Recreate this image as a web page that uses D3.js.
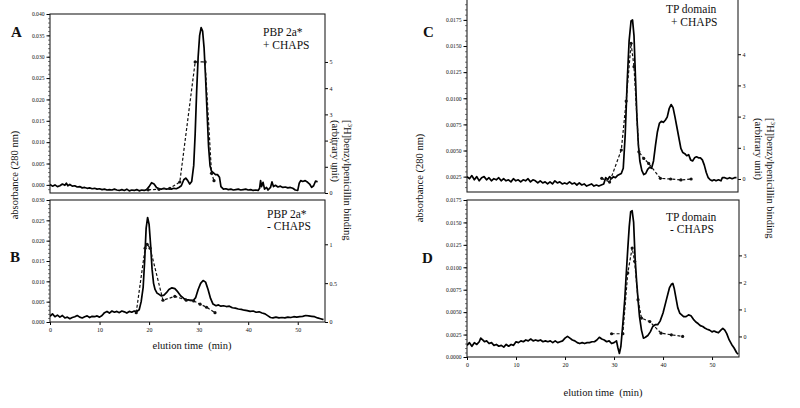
<!DOCTYPE html>
<html><head><meta charset="utf-8">
<script src="https://cdn.jsdelivr.net/npm/d3@7"></script>
<style>body{margin:0;background:#fff}svg{display:block}text{font-family:"Liberation Serif","Times New Roman",serif;fill:#111}</style>
</head><body><svg id="c" width="800" height="408"></svg>
<script>
// ---------- DATA (elution time min, value) ----------
const aAbs = [[0,0.0001],[0.5,-0.0003],[1,0.0000],[1.5,-0.0004],[2,-0.0002],[2.5,0.0002],[3,-0.0001],[3.3,0.0004],[3.6,-0.0002],[4,0.0001],[4.5,-0.0003],[5,-0.0002],[5.5,-0.0005],[6,-0.0004],[6.5,-0.0007],[7,-0.0006],[7.5,-0.0008],[8,-0.0007],[8.5,-0.0009],[9,-0.0008],[9.5,-0.0010],[10,-0.0009],[10.5,-0.0011],[11,-0.0010],[11.5,-0.0012],[12,-0.0011],[12.5,-0.0012],[13,-0.0010],[13.5,-0.0012],[14,-0.0013],[14.5,-0.0011],[15,-0.0013],[15.5,-0.0010],[16,-0.0014],[16.5,-0.0012],[17,-0.0013],[17.5,-0.0011],[18,-0.0014],[18.5,-0.0012],[19,-0.0013],[19.5,-0.0011],[20,-0.0004],[20.5,0.0005],[21,0.0002],[21.5,-0.0006],[22,-0.0009],[22.5,-0.0010],[23,-0.0008],[23.5,-0.0010],[24,-0.0009],[24.5,-0.0010],[25,-0.0008],[25.5,-0.0009],[26,-0.0006],[26.5,-0.0002],[27,0.0012],[27.4,0.0016],[27.8,0.0010],[28.2,0.0002],[28.6,0.0008],[29,0.0045],[29.3,0.0120],[29.6,0.0220],[29.9,0.0300],[30.2,0.0350],[30.5,0.0368],[30.8,0.0360],[31.1,0.0320],[31.4,0.0250],[31.7,0.0170],[32,0.0090],[32.3,0.0045],[32.6,0.0032],[33,0.0028],[33.4,0.0024],[33.8,0.0024],[34.2,0.0018],[34.5,-0.0004],[35,-0.0010],[35.5,-0.0009],[36,-0.0011],[36.5,-0.0010],[37,-0.0012],[37.5,-0.0011],[38,-0.0010],[38.5,-0.0012],[39,-0.0011],[39.5,-0.0010],[40,-0.0012],[40.5,-0.0011],[41,-0.0013],[41.5,-0.0012],[42,-0.0013],[42.3,-0.0008],[42.5,0.0010],[42.7,-0.0004],[43,0.0006],[43.3,-0.0010],[43.7,-0.0006],[44,-0.0012],[44.5,-0.0006],[44.8,0.0007],[45.1,-0.0004],[45.5,-0.0001],[46,-0.0005],[46.5,-0.0003],[47,-0.0006],[47.5,-0.0005],[48,-0.0007],[48.5,-0.0006],[49,-0.0008],[49.5,-0.0012],[50,-0.0013],[50.3,0.0004],[50.6,0.0010],[51,0.0008],[51.5,0.0010],[52,0.0006],[52.4,0.0002],[52.8,-0.0006],[53.2,-0.0002],[53.6,0.0009],[54,0.0007]];
const aBind = [[19.8,0.12],[22,0.14],[24.2,0.18],[26.2,0.42],[29.3,5.0],[31.3,5.0],[32.6,0.75],[33.1,0.47]];

const bAbs = [[0,0.0014],[0.5,0.0020],[1,0.0013],[1.5,0.0017],[2,0.0012],[2.5,0.0016],[3,0.0010],[3.5,0.0012],[4,0.0008],[4.5,0.0011],[5,0.0013],[5.5,0.0016],[6,0.0012],[6.5,0.0010],[7,0.0013],[7.5,0.0015],[8,0.0011],[8.5,0.0014],[9,0.0013],[9.5,0.0015],[10,0.0012],[10.5,0.0016],[11,0.0023],[11.5,0.0026],[12,0.0022],[12.5,0.0027],[13,0.0024],[13.5,0.0026],[14,0.0023],[14.5,0.0027],[15,0.0025],[15.5,0.0022],[16,0.0026],[16.5,0.0024],[17,0.0027],[17.5,0.0026],[18,0.0030],[18.4,0.0050],[18.8,0.0085],[19.1,0.0150],[19.4,0.0230],[19.7,0.0257],[20,0.0240],[20.3,0.0190],[20.6,0.0130],[20.9,0.0095],[21.2,0.0080],[21.6,0.0071],[22,0.0068],[22.5,0.0064],[23,0.0066],[23.5,0.0072],[24,0.0080],[24.6,0.0084],[25.2,0.0082],[25.8,0.0074],[26.4,0.0064],[27,0.0058],[27.6,0.0055],[28.2,0.0054],[28.9,0.0053],[29.4,0.0060],[29.9,0.0080],[30.4,0.0095],[30.9,0.0102],[31.4,0.0098],[31.9,0.0080],[32.4,0.0058],[32.9,0.0044],[33.5,0.0040],[34,0.0042],[34.5,0.0039],[35,0.0040],[35.6,0.0038],[36.2,0.0039],[36.8,0.0035],[37.4,0.0034],[38,0.0032],[38.6,0.0031],[39.2,0.0029],[39.8,0.0028],[40.4,0.0026],[41,0.0027],[41.6,0.0024],[42.2,0.0025],[42.8,0.0022],[43.4,0.0020],[44,0.0015],[44.5,0.0011],[45,0.0010],[45.6,0.0012],[46.2,0.0010],[46.8,0.0011],[47.4,0.0010],[48,0.0012],[48.6,0.0011],[49.2,0.0013],[49.8,0.0012],[50.4,0.0013],[51,0.0014],[51.6,0.0016],[52.2,0.0015],[52.8,0.0014],[53.4,0.0013],[54,0.0010],[54.6,0.0008],[55.2,0.0006]];
const bBind = [[17.4,0.12],[19.2,0.95],[19.6,1.0],[20.2,0.95],[22.8,0.28],[25.2,0.33],[27.5,0.28],[29.0,0.27],[30.3,0.23],[31.6,0.19],[33.3,0.12]];

const cAbs = [[0,0.0025],[0.5,0.0023],[1,0.0026],[1.5,0.0022],[2,0.0025],[2.5,0.0021],[3,0.0024],[3.5,0.0025],[4,0.0022],[4.5,0.0024],[5,0.0021],[5.5,0.0023],[6,0.0022],[6.5,0.0024],[7,0.0021],[7.5,0.0023],[8,0.0021],[8.5,0.0022],[9,0.0020],[9.5,0.0023],[10,0.0021],[10.5,0.0022],[11,0.0020],[11.5,0.0022],[12,0.0021],[12.5,0.0023],[13,0.0020],[13.5,0.0022],[14,0.0021],[14.5,0.0019],[15,0.0021],[15.5,0.0019],[16,0.0020],[16.5,0.0018],[17,0.0020],[17.5,0.0018],[18,0.0021],[18.5,0.0019],[19,0.0020],[19.5,0.0018],[20,0.0019],[20.5,0.0018],[21,0.0020],[21.5,0.0018],[22,0.0019],[22.5,0.0017],[23,0.0019],[23.5,0.0017],[24,0.0018],[24.5,0.0016],[25,0.0017],[25.5,0.0018],[26,0.0016],[26.5,0.0017],[27,0.0016],[27.5,0.0017],[28,0.0018],[28.4,0.0024],[28.8,0.0022],[29.2,0.0025],[29.6,0.0023],[30,0.0025],[30.4,0.0024],[30.8,0.0026],[31.2,0.0027],[31.6,0.0028],[32,0.0033],[32.4,0.0065],[32.8,0.0115],[33.2,0.0155],[33.6,0.0174],[33.9,0.0175],[34.2,0.0160],[34.5,0.0120],[34.8,0.0082],[35.1,0.0055],[35.4,0.0040],[35.8,0.0031],[36.2,0.0027],[36.6,0.0028],[37,0.0032],[37.4,0.0034],[37.8,0.0033],[38.2,0.0040],[38.6,0.0055],[39,0.0068],[39.4,0.0076],[39.8,0.0078],[40.2,0.0077],[40.6,0.0079],[41,0.0082],[41.4,0.0090],[41.8,0.0094],[42.2,0.0091],[42.6,0.0082],[43,0.0072],[43.4,0.0062],[43.8,0.0052],[44.2,0.0048],[44.6,0.0047],[45,0.0045],[45.4,0.0046],[45.8,0.0041],[46.2,0.0040],[46.6,0.0043],[47,0.0044],[47.4,0.0043],[47.8,0.0043],[48.2,0.0041],[48.6,0.0036],[49,0.0029],[49.4,0.0024],[49.8,0.0022],[50.2,0.0021],[50.6,0.0022],[51,0.0021],[51.5,0.0022],[52,0.0021],[52.3,0.0024],[52.8,0.0024],[53.3,0.0023],[53.8,0.0024],[54.3,0.0023],[54.8,0.0024],[55.2,0.0024]];
const cBind = [[27.6,0.02],[29.2,-0.1],[31.6,0.93],[32.6,2.5],[33.6,4.35],[34.2,3.6],[35.2,0.87],[36.2,0.66],[37.2,0.5],[39.6,0.02],[41.7,0.0],[43.8,-0.03],[45.9,0.0]];

const dAbs = [[0,0.0013],[0.5,0.0016],[1,0.0012],[1.5,0.0016],[2,0.0014],[2.5,0.0017],[2.8,0.0021],[3.2,0.0019],[3.6,0.0017],[4,0.0018],[4.5,0.0015],[5,0.0016],[5.5,0.0013],[6,0.0014],[6.5,0.0012],[7,0.0013],[7.5,0.0011],[8,0.0014],[8.5,0.0012],[9,0.0014],[9.5,0.0013],[10,0.0017],[10.5,0.0016],[11,0.0018],[11.5,0.0017],[12,0.0019],[12.5,0.0018],[13,0.0020],[13.5,0.0018],[14,0.0019],[14.5,0.0018],[15,0.0019],[15.5,0.0017],[16,0.0018],[16.5,0.0017],[17,0.0018],[17.5,0.0016],[18,0.0018],[18.5,0.0016],[19,0.0017],[19.5,0.0018],[20,0.0021],[20.5,0.0023],[21,0.0021],[21.5,0.0019],[22,0.0018],[22.5,0.0016],[23,0.0015],[23.5,0.0016],[24,0.0015],[24.5,0.0016],[25,0.0016],[25.5,0.0017],[26,0.0017],[26.5,0.0019],[27,0.0022],[27.5,0.0020],[28,0.0019],[28.5,0.0017],[29,0.0018],[29.5,0.0015],[30,0.0016],[30.5,0.0018],[30.8,0.0010],[31.1,0.0004],[31.4,0.0012],[31.8,0.0037],[32.2,0.0065],[32.5,0.0093],[32.8,0.0120],[33.1,0.0145],[33.4,0.0162],[33.7,0.0163],[34,0.0150],[34.3,0.0110],[34.6,0.0085],[34.9,0.0064],[35.2,0.0045],[35.6,0.0030],[36,0.0021],[36.4,0.0022],[36.9,0.0024],[37.4,0.0028],[37.9,0.0034],[38.4,0.0036],[38.9,0.0036],[39.4,0.0040],[40,0.0049],[40.6,0.0062],[41.3,0.0077],[41.7,0.0081],[42,0.0082],[42.3,0.0076],[42.7,0.0064],[43,0.0055],[43.4,0.0049],[43.8,0.0047],[44.2,0.0045],[44.7,0.0045],[45.2,0.0047],[45.7,0.0046],[46.2,0.0042],[46.7,0.0039],[47.2,0.0037],[47.6,0.0035],[48.1,0.0034],[48.6,0.0032],[49,0.0031],[49.5,0.0030],[50,0.0028],[50.4,0.0029],[50.8,0.0028],[51.3,0.0027],[51.8,0.0030],[52.2,0.0032],[52.6,0.0030],[53,0.0026],[53.5,0.0019],[54,0.0014],[54.5,0.0010],[55,0.0005],[55.3,0.0003]];
const dBind = [[29.5,0.1],[31.8,0.1],[32.8,2.35],[33.7,3.27],[34.2,2.78],[34.9,1.36],[35.6,0.68],[37.3,0.55],[39.6,0.12],[41.7,0.06],[44.0,0.0]];

// tick labels
const xTicks = [0,10,20,30,40,50];
const leftTicksA = [0,0.005,0.010,0.015,0.020,0.025,0.030,0.035,0.040];
const leftTicksB = [0,0.005,0.010,0.015,0.020,0.025,0.030];
const leftTicksC = [0.0025,0.0050,0.0075,0.0100,0.0125,0.0150,0.0175];
const leftTicksD = [0,0.0025,0.0050,0.0075,0.0100,0.0125,0.0150,0.0175];
const rightTicksA = [0,1,2,3,4,5];
const rightTicksB = [0,0.5,1];
const rightTicksC = [0,1,2,3,4];
const rightTicksD = [0,1,2,3];
const panelLetters = ["A","B","C","D"];
const panelNotes = [["PBP 2a*","+ CHAPS"],["PBP 2a*","- CHAPS"],["TP domain","+ CHAPS"],["TP domain","- CHAPS"]];

// ---------- DRAWING ----------
const svg = d3.select("#c");
const panels = [
  {abs:aAbs,bind:aBind,lt:leftTicksA,rt:rightTicksA,fmt:".3f",box:[50,325,14,193],lDom:[-0.0019,0.040],rDom:[0,6.83],minor:0.001,showX:false,letter:[11,37],note:[263,36,263,49]},
  {abs:bAbs,bind:bBind,lt:leftTicksB,rt:rightTicksB,fmt:".3f",box:[50,325,200,322],lDom:[0,0.030],rDom:[0,1.57],minor:0.001,showX:true,letter:[10,262],note:[267,218,267,230]},
  {abs:cAbs,bind:cBind,lt:leftTicksC,rt:rightTicksC,fmt:".4f",box:[467,738,-1,192],lDom:[0.00103,0.0195],rDom:[-0.417,5.77],minor:0.0005,showX:false,letter:[423,37],note:[666,13,671,26]},
  {abs:dAbs,bind:dBind,lt:leftTicksD,rt:rightTicksD,fmt:".4f",box:[467,739,200,357],lDom:[0,0.0175],rDom:[-0.76,5.05],minor:0.0005,showX:true,letter:[422,263],note:[666,221,670,233]}
];

panels.forEach((p,i)=>{
  const [x0,x1,y0,y1] = p.box;
  const x = d3.scaleLinear().domain([0,55.5]).range([x0,x1]);
  const yL = d3.scaleLinear().domain(p.lDom).range([y1,y0]);
  const yR = d3.scaleLinear().domain(p.rDom).range([y1,y0]);
  const g = svg.append("g");
  const cid = "clip"+i;
  svg.append("clipPath").attr("id",cid).append("rect").attr("x",x0).attr("y",y0).attr("width",x1-x0).attr("height",y1-y0);

  // minor left ticks
  const minors = d3.range(Math.ceil(p.lDom[0]/p.minor)*p.minor, p.lDom[1]+1e-9, p.minor);
  g.append("g").attr("transform",`translate(${x0},0)`)
    .call(d3.axisLeft(yL).tickValues(minors).tickSize(2).tickFormat(""))
    .call(a=>a.select(".domain").remove())
    .call(a=>a.selectAll("line").attr("stroke","#222").attr("stroke-width",0.6));
  g.append("g").attr("transform",`translate(${x0},0)`)
    .call(d3.axisLeft(yL).tickValues(p.lt).tickSize(3.5).tickPadding(2).tickFormat(d3.format(p.fmt)))
    .call(a=>a.select(".domain").remove())
    .call(a=>a.selectAll("text").attr("font-size",5.6).attr("font-family","Liberation Serif"));
  g.append("g").attr("transform",`translate(${x1},0)`)
    .call(d3.axisRight(yR).tickValues(p.rt).tickSize(3).tickPadding(1.5).tickFormat(d=>String(d)))
    .call(a=>a.select(".domain").remove())
    .call(a=>a.selectAll("text").attr("font-size",6).attr("font-family","Liberation Serif"));
  if(p.showX){
    g.append("g").attr("transform",`translate(0,${y1})`)
      .call(d3.axisBottom(x).tickValues(xTicks).tickSize(3).tickPadding(3).tickFormat(d=>String(d)))
      .call(a=>a.select(".domain").remove())
      .call(a=>a.selectAll("text").attr("font-size",6).attr("font-family","Liberation Serif"));
  }
  g.append("rect").attr("x",x0).attr("y",y0).attr("width",x1-x0).attr("height",y1-y0)
    .attr("fill","none").attr("stroke","#222").attr("stroke-width",1.1);

  const pl = g.append("g").attr("clip-path",`url(#${cid})`);
  pl.append("path").datum(p.abs)
    .attr("d",d3.line().x(d=>x(d[0])).y(d=>yL(d[1])))
    .attr("fill","none").attr("stroke","#000").attr("stroke-width",1.7).attr("stroke-linejoin","round");
  pl.append("path").datum(p.bind)
    .attr("d",d3.line().x(d=>x(d[0])).y(d=>yR(d[1])))
    .attr("fill","none").attr("stroke","#111").attr("stroke-width",1.2).attr("stroke-dasharray","3,2");
  pl.selectAll("circle.m").data(p.bind).join("circle")
    .attr("cx",d=>x(d[0])).attr("cy",d=>yR(d[1])).attr("r",1.6).attr("fill","#111");

  svg.append("text").attr("x",p.letter[0]).attr("y",p.letter[1]).attr("font-size",15).attr("font-weight","bold").text(panelLetters[i]);
  svg.append("text").attr("x",p.note[0]).attr("y",p.note[1]).attr("font-size",11.5).text(panelNotes[i][0]);
  svg.append("text").attr("x",p.note[2]).attr("y",p.note[3]).attr("font-size",11.5).text(panelNotes[i][1]);
});

// axis titles
function leftTitle(xb,yc){
  svg.append("text").attr("transform",`translate(${xb},${yc}) rotate(-90)`).attr("text-anchor","middle")
    .attr("font-size",10.5).text("absorbance (280 nm)");
}
function rightTitle(xb,yt){
  const t = svg.append("text").attr("transform",`translate(${xb},${yt}) rotate(90)`).attr("font-size",10.5);
  t.append("tspan").text("[");
  t.append("tspan").attr("font-size",7).attr("dy",-4).text("3");
  t.append("tspan").attr("dy",4).text("H]benzylpenicillin binding");
  svg.append("text").attr("transform",`translate(${xb-12},${yt}) rotate(90)`).attr("font-size",10.5).text("(arbitrary unit)");
}
function bottomTitle(xc,yb){
  svg.append("text").attr("x",xc).attr("y",yb).attr("text-anchor","middle").attr("font-size",10.5).text("elution time\u00a0\u00a0(min)");
}
leftTitle(18,175); leftTitle(423,178);
rightTitle(344,120); rightTitle(767,118);
bottomTitle(192,349); bottomTitle(603,396);
</script></body></html>
